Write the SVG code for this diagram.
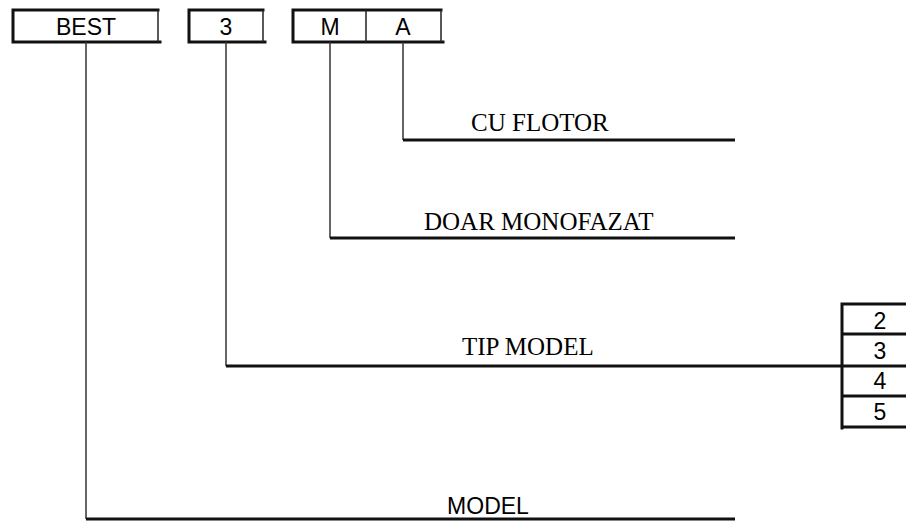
<svg xmlns="http://www.w3.org/2000/svg" width="906" height="523" viewBox="0 0 906 523">
<style>
.thick{stroke:#111;stroke-width:3;fill:none;stroke-linecap:square}
.thin{stroke:#222;stroke-width:1.5;fill:none}
.stem{stroke:#333;stroke-width:1.5;fill:none}
.hz{stroke:#111;stroke-width:3;fill:none}
.sans{font-family:"Liberation Sans",Arial,sans-serif;font-size:23px;fill:#000;text-anchor:middle}
.serif{font-family:"Liberation Serif","Times New Roman",serif;font-size:25px;fill:#000}
</style>
<rect width="906" height="523" fill="#fff"/>
<g id="node-best">
<path class="thick" d="M13,42 V10 H158 M13,42 H160"/>
<path class="thin" d="M158,10 V42"/>
<text class="sans" x="86" y="35">BEST</text>
</g>
<g id="node-3">
<path class="thick" d="M189,42 V10 H263 M189,42 H265"/>
<path class="thin" d="M263,10 V42"/>
<text class="sans" x="226" y="35">3</text>
</g>
<g id="node-ma">
<path class="thick" d="M293,42 V10 H441 M293,42 H443"/>
<path class="thin" d="M366,10 V42 M441,10 V42"/>
<text class="sans" x="330" y="35">M</text>
<text class="sans" x="403" y="35">A</text>
</g>
<g id="node-table">
<path class="thick" d="M842,428 V304 H906 M842,334 H906 M842,366 H906 M842,396 H906 M842,427 H906"/>
<text class="sans" x="880" y="329">2</text>
<text class="sans" x="880" y="359">3</text>
<text class="sans" x="880" y="389">4</text>
<text class="sans" x="880" y="420">5</text>
</g>
<g id="connectors">
<path class="stem" d="M403,42 V140"/>
<path class="hz" d="M403,140 H735"/>
<path class="stem" d="M330,42 V238"/>
<path class="hz" d="M330,238 H735"/>
<path class="stem" d="M226,42 V366"/>
<path class="hz" d="M226,366 H842"/>
<path class="stem" d="M86,42 V519"/>
<path class="hz" d="M86,519 H735"/>
</g>
<g id="labels">
<text class="serif" x="471" y="131">CU FLOTOR</text>
<text class="serif" x="424" y="230">DOAR MONOFAZAT</text>
<text class="serif" x="462" y="355">TIP MODEL</text>
<text class="sans" x="488" y="514">MODEL</text>
</g>
</svg>
